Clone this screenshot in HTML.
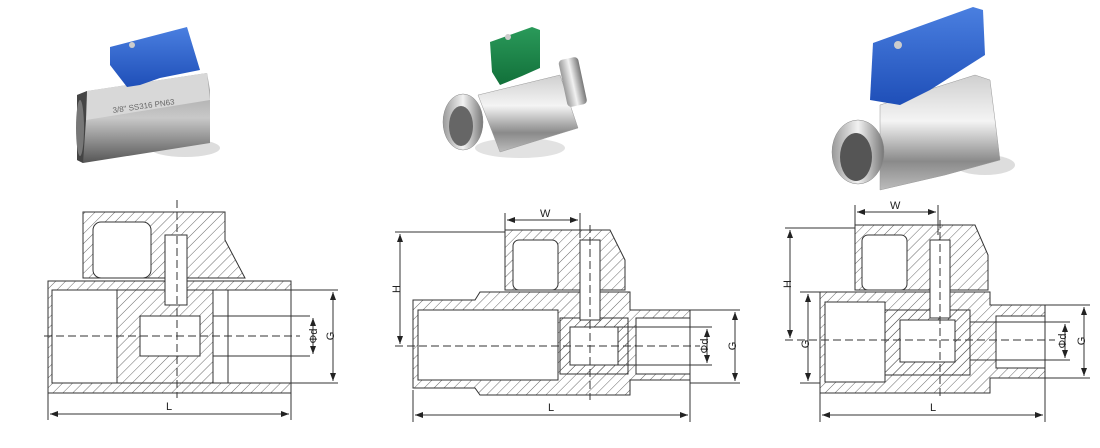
<!DOCTYPE html>
<html><head><meta charset="utf-8"><style>
html,body{margin:0;padding:0;background:#fff}
svg{display:block}
text{font-family:"Liberation Sans",sans-serif;font-size:11px;fill:#222}
</style></head><body>
<svg width="1100" height="448" viewBox="0 0 1100 448" xmlns="http://www.w3.org/2000/svg">
<defs>
<pattern id="h" width="7" height="7" patternUnits="userSpaceOnUse" patternTransform="rotate(45)"><line x1="0" y1="0" x2="0" y2="7" stroke="#444" stroke-width="0.8"/></pattern>
<linearGradient id="steel" x1="0" y1="0" x2="0" y2="1"><stop offset="0" stop-color="#cfcfcf"/><stop offset="0.4" stop-color="#f4f4f4"/><stop offset="0.75" stop-color="#8a8a8a"/><stop offset="1" stop-color="#bcbcbc"/></linearGradient>
<linearGradient id="steelD" x1="0" y1="0" x2="0" y2="1"><stop offset="0" stop-color="#9a9a9a"/><stop offset="0.5" stop-color="#c8c8c8"/><stop offset="1" stop-color="#555"/></linearGradient>
<linearGradient id="steel2" x1="0" y1="0" x2="1" y2="0"><stop offset="0" stop-color="#9a9a9a"/><stop offset="0.5" stop-color="#f2f2f2"/><stop offset="1" stop-color="#777"/></linearGradient>
<linearGradient id="blue" x1="0" y1="0" x2="0" y2="1"><stop offset="0" stop-color="#4a7fe0"/><stop offset="1" stop-color="#1f4fb8"/></linearGradient>
<linearGradient id="green" x1="0" y1="0" x2="0" y2="1"><stop offset="0" stop-color="#2a9a5a"/><stop offset="1" stop-color="#12703a"/></linearGradient>
<marker id="a" markerWidth="8" markerHeight="6" refX="8" refY="3" orient="auto-start-reverse"><path d="M0,0 L8,3 L0,6z" fill="#222"/></marker>
</defs>

<!-- Photo 1 -->
<g>
<ellipse cx="185" cy="148" rx="35" ry="9" fill="#ddd"/>
<path d="M77,95 L87,91 L207,73 L210,90 L210,143 L83,163 L77,160 Z" fill="url(#steelD)"/>
<path d="M87,91 L207,73 L210,100 L86,120 Z" fill="#d8d8d8"/>
<path d="M77,95 L87,91 L86,120 L83,163 L77,160 Z" fill="#444"/>
<ellipse cx="80" cy="128" rx="4" ry="28" fill="#777"/>
<path d="M110,47 L187,27 L200,70 L160,78 L140,85 L127,87 L110,65 Z" fill="url(#blue)"/>
<circle cx="132" cy="45" r="3" fill="#ccc"/>
<text x="113" y="113" style="font-size:8px;fill:#666" transform="rotate(-8 113 113)">3/8" SS316 PN63</text>
</g>
<!-- Photo 2 -->
<g>
<ellipse cx="520" cy="148" rx="45" ry="10" fill="#e2e2e2"/>
<path d="M478,95 L560,75 L578,128 L500,152 Z" fill="url(#steel)" stroke="#999" stroke-width="0.5"/>
<rect x="563" y="58" width="20" height="48" rx="4" fill="url(#steel2)" transform="rotate(-12 573 83)"/>
<ellipse cx="463" cy="122" rx="20" ry="28" fill="url(#steel2)" stroke="#888" stroke-width="0.5"/>
<ellipse cx="461" cy="126" rx="12" ry="20" fill="#666"/>
<path d="M490,42 L532,27 L540,30 L540,68 L522,76 L500,85 L492,72 Z" fill="url(#green)"/>
<circle cx="508" cy="37" r="3" fill="#ccc"/>
</g>
<!-- Photo 3 -->
<g>
<ellipse cx="985" cy="165" rx="30" ry="10" fill="#ddd"/>
<path d="M880,105 L975,75 L990,80 L1000,160 L945,175 L880,190 Z" fill="url(#steel)" stroke="#999" stroke-width="0.5"/>
<ellipse cx="858" cy="152" rx="26" ry="32" fill="url(#steel2)" stroke="#888" stroke-width="0.5"/>
<ellipse cx="856" cy="157" rx="16" ry="24" fill="#555"/>
<path d="M873,43 L973,7 L983,10 L985,55 L930,90 L900,105 L870,100 Z" fill="url(#blue)"/>
<circle cx="898" cy="45" r="4" fill="#ccc"/>
</g>

<g fill="none" stroke="#333" stroke-width="1">
<!-- Drawing 1 -->
<path d="M83,212 L225,212 L225,240 L245,278 L83,278 Z" fill="url(#h)"/>
<rect x="93" y="222" width="58" height="56" rx="8" fill="#fff"/>
<rect x="48" y="281" width="243" height="112" fill="url(#h)"/>
<rect x="52" y="290" width="239" height="93" fill="#fff"/>
<rect x="117" y="290" width="96" height="93" fill="url(#h)"/>
<rect x="140" y="316" width="60" height="40" fill="#fff"/>
<rect x="165" y="235" width="22" height="70" fill="#fff"/>
<line x1="52" y1="290" x2="52" y2="383"/>
<line x1="228" y1="290" x2="228" y2="383"/>
<line x1="213" y1="316" x2="310" y2="316"/>
<line x1="213" y1="356" x2="310" y2="356"/>
<line x1="291" y1="290" x2="338" y2="290"/>
<line x1="291" y1="383" x2="338" y2="383"/>
<line x1="48" y1="393" x2="48" y2="420"/>
<line x1="291" y1="393" x2="291" y2="420"/>
<line x1="50" y1="414" x2="289" y2="414" marker-start="url(#a)" marker-end="url(#a)"/>
<line x1="313" y1="318" x2="313" y2="354" marker-start="url(#a)" marker-end="url(#a)"/>
<line x1="333" y1="292" x2="333" y2="381" marker-start="url(#a)" marker-end="url(#a)"/>
<line x1="44" y1="336" x2="300" y2="336" stroke-dasharray="8,4"/>
<line x1="177" y1="200" x2="177" y2="398" stroke-dasharray="8,4"/>

<!-- Drawing 2 -->
<path d="M505,230 L610,230 L625,260 L625,290 L505,290 Z" fill="url(#h)"/>
<rect x="513" y="240" width="45" height="50" rx="6" fill="#fff"/>
<path d="M413,300 L475,300 L480,292 L630,292 L630,310 L690,310 L690,380 L630,380 L630,395 L480,395 L475,388 L413,388 Z" fill="url(#h)"/>
<rect x="418" y="310" width="140" height="70" fill="#fff"/>
<rect x="560" y="318" width="68" height="56" fill="url(#h)"/>
<rect x="570" y="327" width="48" height="38" fill="#fff"/>
<rect x="636" y="318" width="54" height="56" fill="#fff"/>
<rect x="580" y="240" width="20" height="80" fill="#fff"/>
<line x1="505" y1="213" x2="505" y2="230"/>
<line x1="580" y1="213" x2="580" y2="238"/>
<line x1="507" y1="220" x2="578" y2="220" marker-start="url(#a)" marker-end="url(#a)"/>
<line x1="395" y1="232" x2="505" y2="232"/>
<line x1="400" y1="234" x2="400" y2="344" marker-start="url(#a)" marker-end="url(#a)"/>
<line x1="618" y1="327" x2="712" y2="327"/>
<line x1="618" y1="365" x2="712" y2="365"/>
<line x1="690" y1="310" x2="740" y2="310"/>
<line x1="690" y1="383" x2="740" y2="383"/>
<line x1="707" y1="329" x2="707" y2="363" marker-start="url(#a)" marker-end="url(#a)"/>
<line x1="735" y1="312" x2="735" y2="381" marker-start="url(#a)" marker-end="url(#a)"/>
<line x1="413" y1="390" x2="413" y2="422"/>
<line x1="690" y1="380" x2="690" y2="422"/>
<line x1="415" y1="415" x2="688" y2="415" marker-start="url(#a)" marker-end="url(#a)"/>
<line x1="395" y1="346" x2="700" y2="346" stroke-dasharray="8,4"/>
<line x1="590" y1="225" x2="590" y2="400" stroke-dasharray="8,4"/>

<!-- Drawing 3 -->
<path d="M855,225 L975,225 L988,255 L988,290 L855,290 Z" fill="url(#h)"/>
<rect x="862" y="235" width="45" height="55" rx="6" fill="#fff"/>
<path d="M820,292 L990,292 L990,305 L1045,305 L1045,378 L990,378 L990,393 L820,393 Z" fill="url(#h)"/>
<rect x="825" y="302" width="60" height="80" fill="#fff"/>
<rect x="885" y="310" width="85" height="65" fill="url(#h)"/>
<rect x="900" y="320" width="55" height="42" fill="#fff"/>
<rect x="996" y="316" width="49" height="52" fill="#fff"/>
<rect x="930" y="240" width="20" height="78" fill="#fff"/>
<line x1="855" y1="205" x2="855" y2="225"/>
<line x1="938" y1="205" x2="938" y2="235"/>
<line x1="857" y1="212" x2="936" y2="212" marker-start="url(#a)" marker-end="url(#a)"/>
<line x1="785" y1="228" x2="855" y2="228"/>
<line x1="790" y1="230" x2="790" y2="338" marker-start="url(#a)" marker-end="url(#a)"/>
<line x1="800" y1="292" x2="820" y2="292"/>
<line x1="800" y1="383" x2="820" y2="383"/>
<line x1="808" y1="294" x2="808" y2="381" marker-start="url(#a)" marker-end="url(#a)"/>
<line x1="970" y1="322" x2="1070" y2="322"/>
<line x1="970" y1="360" x2="1070" y2="360"/>
<line x1="1045" y1="305" x2="1090" y2="305"/>
<line x1="1045" y1="378" x2="1090" y2="378"/>
<line x1="1065" y1="324" x2="1065" y2="358" marker-start="url(#a)" marker-end="url(#a)"/>
<line x1="1084" y1="307" x2="1084" y2="376" marker-start="url(#a)" marker-end="url(#a)"/>
<line x1="820" y1="393" x2="820" y2="422"/>
<line x1="1045" y1="378" x2="1045" y2="422"/>
<line x1="822" y1="415" x2="1043" y2="415" marker-start="url(#a)" marker-end="url(#a)"/>
<line x1="785" y1="340" x2="1055" y2="340" stroke-dasharray="8,4"/>
<line x1="940" y1="220" x2="940" y2="400" stroke-dasharray="8,4"/>
</g>

<g>
<text x="166" y="410">L</text>
<text x="310" y="343" transform="rotate(-90 310 336)" text-anchor="middle">Φd</text>
<text x="330" y="340" transform="rotate(-90 330 336)" text-anchor="middle">G</text>
<text x="540" y="217">W</text>
<text x="397" y="292" transform="rotate(-90 397 289)" text-anchor="middle">H</text>
<text x="548" y="411">L</text>
<text x="704" y="350" transform="rotate(-90 704 346)" text-anchor="middle">Φd</text>
<text x="732" y="350" transform="rotate(-90 732 346)" text-anchor="middle">G</text>
<text x="890" y="209">W</text>
<text x="787" y="288" transform="rotate(-90 787 284)" text-anchor="middle">H</text>
<text x="805" y="348" transform="rotate(-90 805 344)" text-anchor="middle">G</text>
<text x="930" y="411">L</text>
<text x="1062" y="345" transform="rotate(-90 1062 341)" text-anchor="middle">Φd</text>
<text x="1081" y="345" transform="rotate(-90 1081 341)" text-anchor="middle">G</text>
</g>
</svg>
</body></html>
